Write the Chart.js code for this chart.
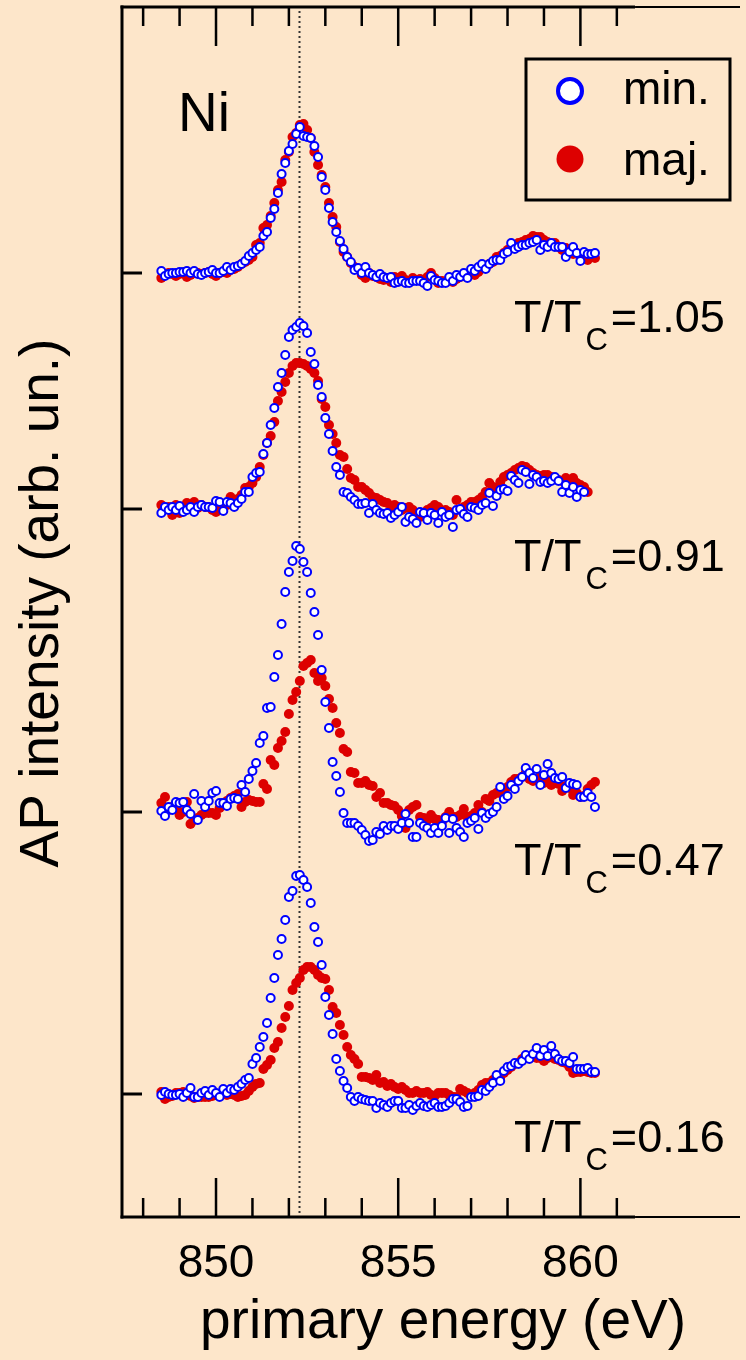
<!DOCTYPE html>
<html>
<head>
<meta charset="utf-8">
<title>Ni AP spectra</title>
<script src="https://cdn.jsdelivr.net/npm/chart.js@4/dist/chart.umd.min.js"></script>
<style>
    html, body { margin: 0; padding: 0; background: #fde6ca; }
    canvas { display: block; }
</style>
</head>
<body>
<canvas id="chart" width="746" height="1360"></canvas>
<script>
// primary energy grid (eV)
const energies = [
    848.5, 848.6, 848.7, 848.8, 848.9, 849.0, 849.1, 849.2, 849.3, 849.4,
    849.5, 849.6, 849.7, 849.8, 849.9, 850.0, 850.1, 850.2, 850.3, 850.4,
    850.5, 850.6, 850.7, 850.8, 850.9, 851.0, 851.1, 851.2, 851.3, 851.4,
    851.5, 851.6, 851.7, 851.8, 851.9, 852.0, 852.1, 852.2, 852.3, 852.4,
    852.5, 852.6, 852.7, 852.8, 852.9, 853.0, 853.1, 853.2, 853.3, 853.4,
    853.5, 853.6, 853.7, 853.8, 853.9, 854.0, 854.1, 854.2, 854.3, 854.4,
    854.5, 854.6, 854.7, 854.8, 854.9, 855.0, 855.1, 855.2, 855.3, 855.4,
    855.5, 855.6, 855.7, 855.8, 855.9, 856.0, 856.1, 856.2, 856.3, 856.4,
    856.5, 856.6, 856.7, 856.8, 856.9, 857.0, 857.1, 857.2, 857.3, 857.4,
    857.5, 857.6, 857.7, 857.8, 857.9, 858.0, 858.1, 858.2, 858.3, 858.4,
    858.5, 858.6, 858.7, 858.8, 858.9, 859.0, 859.1, 859.2, 859.3, 859.4,
    859.5, 859.6, 859.7, 859.8, 859.9, 860.0, 860.1, 860.2, 860.3, 860.4
];

const temperatures = ['1.05', '0.91', '0.47', '0.16'];
// vertical offset of each spectrum (arb. un.)
const offsets = [9.44, 7.08, 4.05, 1.23];

const minority105 = [
    0.02, -0.03, -0.01, 0.00, 0.00, 0.01, 0.01, 0.02, 0.00, 0.02,
    -0.01, -0.02, 0.00, 0.01, 0.03, 0.00, 0.00, 0.02, 0.06, 0.03,
    0.06, 0.07, 0.09, 0.12, 0.17, 0.20, 0.23, 0.26, 0.37, 0.41,
    0.55, 0.64, 0.80, 0.99, 1.10, 1.22, 1.29, 1.39, 1.46, 1.37,
    1.36, 1.35, 1.27, 1.16, 0.96, 0.83, 0.65, 0.51, 0.41, 0.32,
    0.24, 0.16, 0.11, 0.03, 0.05, 0.00, 0.06, 0.00, -0.02, -0.04,
    -0.01, -0.04, -0.05, -0.04, -0.10, -0.09, -0.08, -0.10, -0.10, -0.08,
    -0.08, -0.08, -0.10, -0.13, -0.03, -0.07, -0.08, -0.10, -0.10, -0.04,
    -0.08, -0.02, -0.04, 0.00, -0.05, 0.04, 0.02, 0.06, 0.09, 0.04,
    0.09, 0.12, 0.13, 0.13, 0.19, 0.21, 0.30, 0.24, 0.26, 0.28,
    0.28, 0.30, 0.31, 0.33, 0.23, 0.28, 0.26, 0.30, 0.26, 0.26,
    0.26, 0.16, 0.21, 0.26, 0.20, 0.12, 0.21, 0.19, 0.19, 0.20
];
const majority105 = [
    -0.05, -0.02, 0.00, -0.01, -0.03, -0.01, 0.00, -0.04, -0.02, 0.00,
    0.00, -0.01, 0.00, 0.01, -0.01, -0.03, 0.00, 0.01, 0.00, 0.03,
    0.04, 0.06, 0.09, 0.11, 0.13, 0.16, 0.28, 0.30, 0.45, 0.48,
    0.57, 0.70, 0.83, 0.91, 1.13, 1.21, 1.36, 1.40, 1.48, 1.49,
    1.43, 1.35, 1.21, 1.08, 0.98, 0.86, 0.70, 0.56, 0.46, 0.31,
    0.21, 0.16, 0.10, 0.06, 0.04, -0.02, -0.05, 0.00, -0.03, -0.04,
    -0.06, -0.07, -0.05, -0.09, -0.04, -0.05, -0.03, -0.07, -0.09, -0.05,
    -0.07, -0.06, -0.09, -0.04, 0.00, -0.05, -0.10, -0.08, -0.09, -0.05,
    -0.09, -0.06, -0.04, -0.03, -0.02, 0.00, -0.02, 0.01, 0.06, 0.05,
    0.09, 0.11, 0.16, 0.17, 0.20, 0.23, 0.26, 0.26, 0.30, 0.31,
    0.33, 0.34, 0.37, 0.36, 0.36, 0.33, 0.31, 0.28, 0.30, 0.26,
    0.23, 0.25, 0.21, 0.19, 0.20, 0.16, 0.15, 0.13, 0.16, 0.15
];

const minority091 = [
    -0.04, 0.02, -0.01, 0.02, -0.01, 0.03, -0.03, -0.01, 0.02, -0.03,
    0.02, 0.04, 0.02, 0.02, 0.01, 0.08, 0.07, -0.02, 0.07, 0.06,
    0.02, 0.06, 0.10, 0.17, 0.17, 0.32, 0.36, 0.37, 0.55, 0.66,
    0.84, 1.01, 1.22, 1.36, 1.54, 1.72, 1.79, 1.82, 1.86, 1.83,
    1.76, 1.57, 1.45, 1.24, 1.12, 0.91, 0.75, 0.58, 0.42, 0.34,
    0.17, 0.16, 0.12, 0.09, 0.05, 0.05, 0.06, -0.04, 0.05, -0.01,
    -0.04, -0.05, -0.04, -0.09, -0.06, -0.03, 0.02, -0.13, -0.08, -0.10,
    -0.14, -0.03, -0.04, -0.11, -0.04, -0.06, -0.14, -0.03, -0.08, -0.06,
    -0.18, -0.01, 0.00, -0.05, -0.08, 0.02, 0.01, -0.01, 0.04, 0.06,
    0.16, 0.03, 0.13, 0.19, 0.20, 0.18, 0.33, 0.29, 0.26, 0.39,
    0.37, 0.25, 0.34, 0.32, 0.27, 0.28, 0.26, 0.28, 0.32, 0.28,
    0.17, 0.24, 0.16, 0.22, 0.12, 0.19, 0.17
];
const majority091 = [
    0.04, 0.00, 0.02, -0.06, 0.04, -0.04, 0.02, 0.06, 0.02, 0.07,
    0.01, 0.04, 0.02, 0.02, -0.01, -0.03, 0.02, 0.01, 0.04, 0.12,
    0.07, 0.10, 0.14, 0.21, 0.22, 0.26, 0.32, 0.42, 0.54, 0.66,
    0.73, 0.87, 1.08, 1.17, 1.27, 1.36, 1.43, 1.46, 1.46, 1.45,
    1.43, 1.40, 1.36, 1.28, 1.10, 1.02, 0.84, 0.75, 0.66, 0.54,
    0.52, 0.40, 0.31, 0.29, 0.22, 0.22, 0.19, 0.16, 0.12, 0.11,
    0.09, 0.07, 0.06, -0.01, 0.04, 0.02, -0.01, 0.01, 0.02, -0.01,
    -0.06, -0.08, -0.04, -0.01, 0.01, 0.04, 0.02, -0.02, -0.01, -0.03,
    -0.06, 0.09, -0.01, 0.02, 0.04, 0.07, 0.07, 0.09, 0.12, 0.17,
    0.26, 0.22, 0.21, 0.27, 0.32, 0.34, 0.36, 0.39, 0.41, 0.43,
    0.42, 0.39, 0.36, 0.34, 0.33, 0.34, 0.34, 0.32, 0.31, 0.29,
    0.28, 0.31, 0.29, 0.31, 0.26, 0.24, 0.22, 0.17
];

const minority047 = [
    0.01, -0.04, 0.05, 0.02, 0.10, 0.09, 0.10, 0.02, -0.02, 0.18,
    -0.08, 0.11, 0.05, 0.11, 0.19, 0.21, 0.09, 0.09, 0.06, 0.13,
    0.14, 0.13, 0.27, 0.20, 0.33, 0.41, 0.49, 0.69, 0.76, 1.04,
    1.05, 1.35, 1.57, 1.88, 2.20, 2.40, 2.51, 2.66, 2.63, 2.50,
    2.40, 2.19, 2.00, 1.77, 1.42, 1.10, 0.84, 0.50, 0.36, 0.20,
    -0.01, -0.11, -0.11, -0.11, -0.14, -0.18, -0.23, -0.29, -0.28, -0.20,
    -0.22, -0.14, -0.18, -0.14, -0.14, -0.17, -0.11, -0.02, -0.11, -0.25,
    -0.25, -0.11, -0.14, -0.16, -0.21, -0.16, -0.21, -0.14, -0.06, -0.21,
    -0.07, -0.16, -0.20, -0.25, -0.11, -0.09, -0.06, -0.17, -0.01, -0.06,
    -0.02, 0.00, 0.05, 0.25, 0.13, 0.16, 0.27, 0.23, 0.31, 0.35,
    0.44, 0.39, 0.34, 0.43, 0.27, 0.37, 0.48, 0.39, 0.34, 0.33,
    0.35, 0.24, 0.29, 0.28, 0.27, 0.15, 0.15, 0.19, 0.15, 0.05
];
const majority047 = [
    0.09, 0.15, 0.02, 0.05, 0.05, -0.03, 0.00, 0.10, -0.12, -0.08,
    -0.06, -0.03, -0.01, -0.01, -0.01, -0.03, 0.04, 0.09, 0.11, 0.14,
    0.16, 0.18, 0.05, 0.10, 0.12, 0.11, 0.10, 0.10, 0.28, 0.23,
    0.52, 0.47, 0.64, 0.71, 0.80, 0.98, 1.12, 1.20, 1.31, 1.46,
    1.49, 1.52, 1.39, 1.31, 1.34, 1.26, 1.13, 1.04, 0.89, 0.79,
    0.63, 0.60, 0.40, 0.39, 0.29, 0.29, 0.31, 0.27, 0.26, 0.15,
    0.19, 0.09, 0.09, 0.07, 0.06, 0.02, -0.04, -0.16, 0.02, 0.05,
    0.07, -0.05, -0.06, -0.08, -0.03, -0.07, -0.08, -0.10, -0.05, 0.00,
    -0.05, -0.05, -0.03, 0.03, -0.05, -0.04, -0.01, 0.07, 0.00, 0.13,
    0.11, 0.17, 0.19, 0.19, 0.20, 0.25, 0.30, 0.33, 0.33, 0.35,
    0.39, 0.33, 0.31, 0.33, 0.35, 0.29, 0.32, 0.27, 0.29, 0.28,
    0.21, 0.26, 0.24, 0.17, 0.19, 0.15, 0.16, 0.23, 0.27, 0.30
];

const minority016 = [
    -0.01, 0.02, 0.00, -0.01, -0.01, 0.00, -0.03, 0.01, 0.06, -0.03,
    -0.03, 0.01, 0.03, -0.01, 0.04, 0.01, -0.03, 0.05, 0.01, 0.05,
    0.04, 0.07, 0.10, 0.14, 0.16, 0.30, 0.36, 0.47, 0.57, 0.71,
    0.96, 1.16, 1.39, 1.55, 1.74, 1.97, 2.03, 2.18, 2.19, 2.14,
    2.07, 1.91, 1.67, 1.52, 1.29, 0.97, 0.79, 0.60, 0.35, 0.23,
    0.13, 0.06, -0.03, -0.07, -0.03, -0.05, -0.06, -0.07, -0.07, -0.14,
    -0.09, -0.11, -0.13, -0.09, -0.07, -0.07, -0.14, -0.14, -0.11, -0.16,
    -0.12, -0.09, -0.12, -0.13, -0.11, -0.09, -0.13, -0.13, -0.12, -0.09,
    -0.05, -0.05, -0.08, -0.13, -0.12, -0.03, -0.03, -0.02, 0.04, 0.03,
    0.07, 0.11, 0.19, 0.13, 0.23, 0.27, 0.28, 0.31, 0.30, 0.33,
    0.39, 0.35, 0.40, 0.46, 0.38, 0.44, 0.38, 0.48, 0.40, 0.35,
    0.33, 0.33, 0.31, 0.37, 0.25, 0.25, 0.25, 0.26, 0.22, 0.22
];
const majority016 = [
    0.02, -0.05, -0.03, -0.02, 0.01, 0.01, 0.02, -0.01, -0.02, -0.04,
    -0.03, -0.03, -0.03, -0.03, -0.02, -0.01, 0.00, 0.01, -0.01, 0.00,
    -0.01, -0.03, -0.02, -0.01, 0.03, 0.07, 0.10, 0.11, 0.25, 0.29,
    0.34, 0.46, 0.52, 0.66, 0.77, 0.88, 1.04, 1.11, 1.16, 1.24,
    1.27, 1.27, 1.24, 1.19, 1.16, 1.15, 1.04, 0.87, 0.81, 0.69,
    0.59, 0.47, 0.39, 0.35, 0.30, 0.17, 0.17, 0.16, 0.14, 0.19,
    0.11, 0.12, 0.08, 0.10, 0.07, 0.05, 0.07, 0.04, 0.01, 0.01,
    0.03, 0.01, 0.01, 0.02, -0.01, -0.02, 0.01, 0.01, 0.01, -0.01,
    -0.03, -0.03, 0.05, 0.03, 0.01, -0.01, 0.01, 0.04, 0.09, 0.11,
    0.11, 0.14, 0.14, 0.17, 0.21, 0.24, 0.27, 0.30, 0.31, 0.35,
    0.37, 0.37, 0.39, 0.36, 0.36, 0.33, 0.36, 0.37, 0.35, 0.34,
    0.32, 0.31, 0.27, 0.21, 0.22, 0.22, 0.23, 0.22, 0.21, 0.21
];

const minoritySeries = [minority105, minority091, minority047, minority016];
const majoritySeries = [majority105, majority091, majority047, majority016];

const xTickLabels = [850, 855, 860];
const xMinorTicks = [848, 849, 850, 851, 852, 853, 854, 855, 856, 857, 858, 859, 860, 861];
const peakEnergy = 852.28;   // dotted reference line
const xMin = 847.42, xMax = 864.38;
const yMin = 0, yMax = 12.10;

const FONT = '"Liberation Sans", Arial, Helvetica, sans-serif';
const BG = '#fde6ca';
const RED = '#dd0000';
const BLUE = '#0000ff';

function toPoints(values, offset) {
    return values.map((v, i) => ({x: energies[i], y: offset + v}));
}

const datasets = [];
temperatures.forEach((t, i) => {
    datasets.push({
        label: 'maj. T/Tc=' + t,
        data: toPoints(majoritySeries[i], offsets[i]),
        pointRadius: 5,
        pointBackgroundColor: RED,
        pointBorderWidth: 0,
        pointBorderColor: RED,
        showLine: false,
        order: 2
    });
    datasets.push({
        label: 'min. T/Tc=' + t,
        data: toPoints(minoritySeries[i], offsets[i]),
        pointRadius: 4,
        pointBackgroundColor: '#ffffff',
        pointBorderWidth: 2,
        pointBorderColor: BLUE,
        showLine: false,
        order: 1
    });
});

function line(ctx, x1, y1, x2, y2) {
    ctx.beginPath();
    ctx.moveTo(x1, y1);
    ctx.lineTo(x2, y2);
    ctx.stroke();
}

const decorations = {
    id: 'decorations',
    beforeDraw(chart) {
        const {ctx, width, height} = chart;
        ctx.save();
        ctx.fillStyle = BG;
        ctx.fillRect(0, 0, width, height);
        ctx.restore();
    },
    beforeDatasetsDraw(chart) {
        const {ctx, chartArea: a, scales: {x}} = chart;
        const px = Math.round(x.getPixelForValue(peakEnergy)) + 0.5;
        ctx.save();
        ctx.strokeStyle = '#333';
        ctx.lineWidth = 2;
        ctx.setLineDash([2, 3]);
        line(ctx, px, a.top + 4, px, a.bottom - 2);
        ctx.restore();
    },
    afterDatasetsDraw(chart) {
        const {ctx, chartArea: a, scales: {x, y}} = chart;
        ctx.save();
        ctx.strokeStyle = '#000';
        ctx.lineCap = 'butt';
        const xEnd = x.getPixelForValue(861.5);
        // frame: thick part, then thinner continuation to the right edge
        ctx.lineWidth = 3;
        line(ctx, a.left, a.top - 1.5, a.left, a.bottom + 1.5);
        line(ctx, a.left - 1.5, a.top, xEnd, a.top);
        line(ctx, a.left - 1.5, a.bottom, xEnd, a.bottom);
        ctx.lineWidth = 2;
        line(ctx, xEnd, a.top, a.right, a.top);
        line(ctx, xEnd, a.bottom, a.right, a.bottom);
        // inside ticks on top and bottom
        ctx.lineWidth = 2.5;
        xMinorTicks.forEach(e => {
            const px = x.getPixelForValue(e);
            const len = xTickLabels.includes(e) ? 39 : 19;
            line(ctx, px, a.top, px, a.top + len);
            line(ctx, px, a.bottom, px, a.bottom - len);
        });
        // baseline ticks on the left axis
        ctx.lineWidth = 3;
        offsets.forEach(o => {
            const py = y.getPixelForValue(o);
            line(ctx, a.left, py, a.left + 20, py);
        });
        ctx.restore();
    },
    afterDraw(chart) {
        const {ctx, chartArea: a} = chart;
        ctx.save();
        ctx.fillStyle = '#000';
        ctx.textBaseline = 'alphabetic';
        ctx.textAlign = 'left';

        // element label
        ctx.font = '55px ' + FONT;
        ctx.fillText('Ni', 178, 131);

        // temperature labels
        const labelX = 514;
        const labelBaselines = [332, 571, 875, 1152];
        temperatures.forEach((t, i) => {
            const yb = labelBaselines[i];
            ctx.font = '45px ' + FONT;
            ctx.fillText('T/T', labelX, yb);
            let xx = labelX + ctx.measureText('T/T').width + 4;
            ctx.font = '31px ' + FONT;
            ctx.fillText('C', xx, yb + 18);
            xx += ctx.measureText('C').width + 3;
            ctx.font = '45px ' + FONT;
            ctx.fillText('=' + t, xx, yb);
        });

        // axis titles
        ctx.font = '55px ' + FONT;
        ctx.textAlign = 'center';
        ctx.textBaseline = 'middle';
        ctx.fillText('primary energy (eV)', 443, 1323);
        ctx.save();
        ctx.translate(43, 603);
        ctx.rotate(-Math.PI / 2);
        ctx.fillText('AP intensity (arb. un.)', 0, 0);
        ctx.restore();
        ctx.textAlign = 'left';
        ctx.textBaseline = 'alphabetic';

        // legend box
        ctx.strokeStyle = '#000';
        ctx.lineWidth = 3;
        ctx.strokeRect(526, 59, 204, 141);
        ctx.beginPath();
        ctx.arc(570, 91, 12, 0, Math.PI * 2);
        ctx.fillStyle = '#ffffff';
        ctx.fill();
        ctx.lineWidth = 4;
        ctx.strokeStyle = BLUE;
        ctx.stroke();
        ctx.beginPath();
        ctx.arc(570, 159, 13.5, 0, Math.PI * 2);
        ctx.fillStyle = RED;
        ctx.fill();
        ctx.fillStyle = '#000';
        ctx.font = '46px ' + FONT;
        ctx.fillText('min.', 623, 104);
        ctx.fillText('maj.', 623, 175);
        ctx.restore();
    }
};

new Chart(document.getElementById('chart'), {
    type: 'scatter',
    data: {datasets},
    plugins: [decorations],
    options: {
        responsive: false,
        animation: false,
        devicePixelRatio: 1,
        layout: {padding: {top: 7, right: 0, bottom: 0, left: 0}},
        plugins: {
            legend: {display: false},
            tooltip: {enabled: false}
        },
        scales: {
            x: {
                type: 'linear',
                min: xMin,
                max: xMax,
                afterFit: (scale) => { scale.height = 143; },
                afterBuildTicks: (scale) => { scale.ticks = xTickLabels.map(v => ({value: v})); },
                grid: {display: false, drawTicks: false},
                border: {display: false},
                ticks: {
                    color: '#000',
                    padding: 20,
                    maxRotation: 0,
                    font: {family: FONT, size: 46},
                    callback: (v) => String(v)
                },
                title: {display: false}
            },
            y: {
                type: 'linear',
                min: yMin,
                max: yMax,
                afterFit: (scale) => { scale.width = 122; },
                grid: {display: false, drawTicks: false},
                border: {display: false},
                ticks: {display: false},
                title: {display: false}
            }
        }
    }
});
</script>
</body>
</html>
